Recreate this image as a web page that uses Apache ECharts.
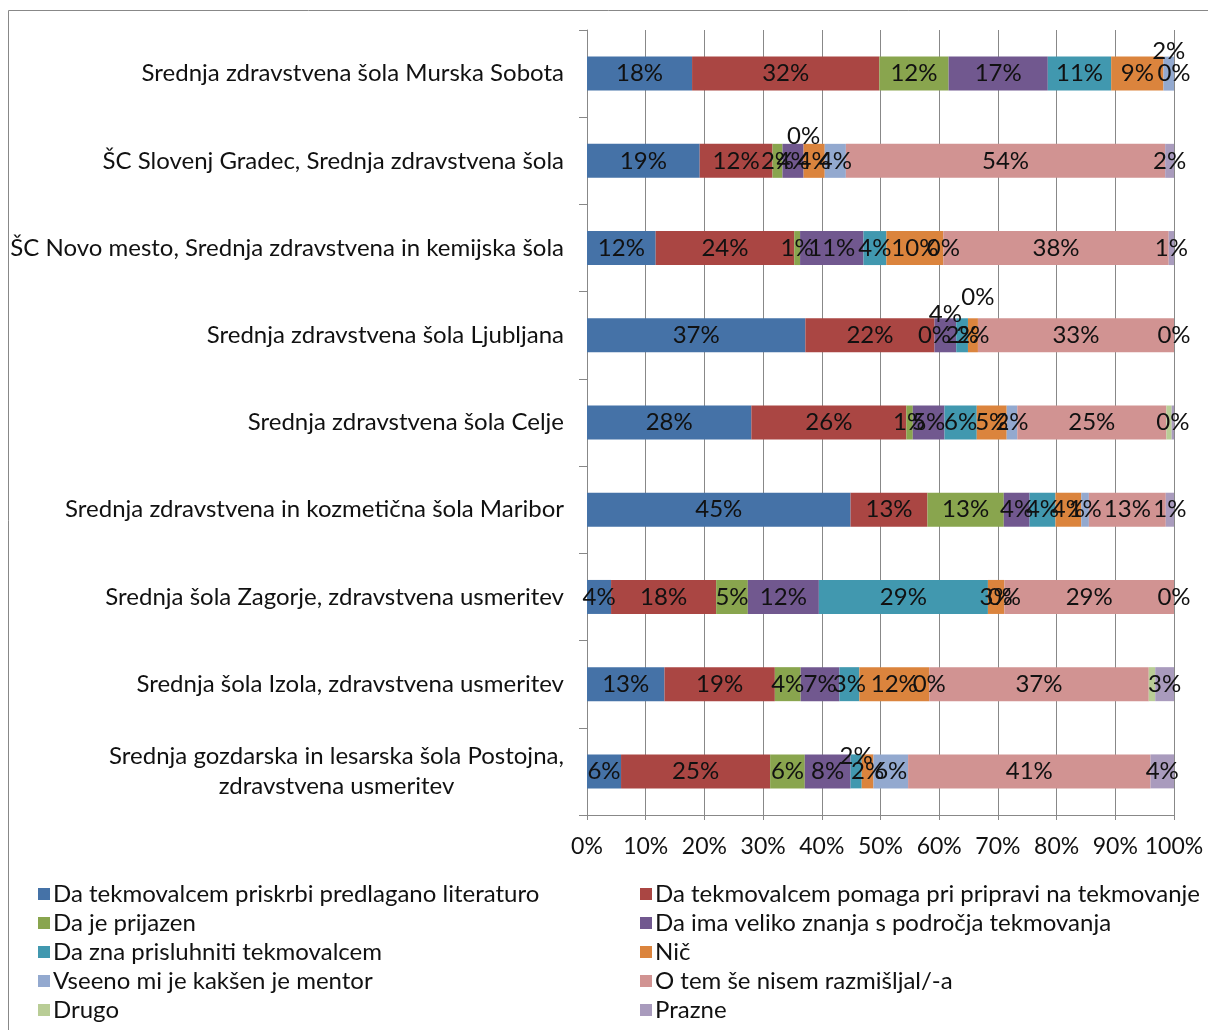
<!DOCTYPE html>
<html><head><meta charset="utf-8">
<script src="https://cdn.jsdelivr.net/npm/echarts@6/dist/echarts.min.js"></script>
<style>html,body{margin:0;padding:0;background:#fff}#c{width:1208px;height:1030px}</style>
</head><body><div id="c"></div>
<script>
const categories = [
  "Srednja zdravstvena šola Murska Sobota",
  "ŠC Slovenj Gradec, Srednja zdravstvena šola",
  "ŠC Novo mesto, Srednja zdravstvena in kemijska šola",
  "Srednja zdravstvena šola Ljubljana",
  "Srednja zdravstvena šola Celje",
  "Srednja zdravstvena in kozmetična šola Maribor",
  "Srednja šola Zagorje, zdravstvena usmeritev",
  "Srednja šola Izola, zdravstvena usmeritev",
  "Srednja gozdarska in lesarska šola Postojna,\nzdravstvena usmeritev"
];
const seriesNames = [
  "Da tekmovalcem priskrbi predlagano literaturo",
  "Da tekmovalcem pomaga pri pripravi na tekmovanje",
  "Da je prijazen",
  "Da ima veliko znanja s področja tekmovanja",
  "Da zna prisluhniti tekmovalcem",
  "Nič",
  "Vseeno mi je kakšen je mentor",
  "O tem še nisem razmišljal/-a",
  "Drugo",
  "Prazne"
];
// percentages per school (same order as categories)
const literatura   = [17.9, 19.2, 11.7, 37.2, 28.0, 44.9,  4.1, 13.2,  5.8];
const priprava     = [31.9, 12.4, 23.6, 22.0, 26.4, 13.1, 17.9, 18.8, 25.4];
const prijazen     = [11.8,  1.7,  1.0,  0,    1.1, 13.0,  5.4,  4.4,  5.9];
const znanje       = [16.9,  3.6, 10.8,  3.7,  5.4,  4.4, 12.1,  6.6,  7.8];
const prisluhniti  = [10.8,  0,    3.9,  2.0,  5.5,  4.4, 28.8,  3.4,  1.9];
const nic          = [ 8.9,  3.6,  9.7,  1.7,  5.1,  4.4,  2.8, 11.9,  2.0];
const vseeno       = [ 1.8,  3.6,  0,    0,    1.8,  1.3,  0,    0,    5.9];
const niRazmisljal = [ 0,   54.4, 38.4, 33.4, 25.4, 13.1, 28.9, 37.4, 41.3];
const drugo        = [null, null, null, null,  0.9, null, null,  1.1, null];
const prazne       = [null,  1.5,  0.9,  0,    0.4,  1.4,  0,    3.2,  4.0];
const xTicks = [0,10,20,30,40,50,60,70,80,90,100];

const allData = [literatura, priprava, prijazen, znanje, prisluhniti, nic, vseeno, niRazmisljal, drugo, prazne];
const colors = ['#4572A7','#AA4643','#89A54E','#71588F','#4198AF','#DB843D','#93A9CF','#D19392','#B9CD96','#A99BBD'];
// labels that the reference lifts above the bar: [series, category, dy]
const lifted = [[6,0,-22],[4,1,-25],[3,3,-21],[6,3,-38],[4,8,-15]];

const FONT = 'Lato';
const FS = 24;
const series = allData.map((arr, si) => ({
  name: seriesNames[si],
  type: 'bar',
  stack: 'all',
  barWidth: 34,
  itemStyle: {color: colors[si]},
  label: {
    show: si !== 8,
    position: 'inside',
    color: '#111',
    fontFamily: FONT,
    fontSize: FS,
    formatter: p => Math.round(p.value) + '%'
  },
  labelLayout: function (p) {
    const l = lifted.find(t => t[0] === p.seriesIndex && t[1] === p.dataIndex);
    return l ? {dy: l[2]} : {};
  },
  data: arr
}));

// width of the longest line of multi-line category labels (to centre lines as in reference)
const mctx = document.createElement('canvas').getContext('2d');
mctx.font = FS + 'px ' + FONT;
function blockWidth(v) { return Math.ceil(Math.max.apply(null, v.split('\n').map(s => mctx.measureText(s).width))); }

const chart = echarts.init(document.getElementById('c'));
const legendBase = {
  orient: 'vertical', icon: 'rect', itemWidth: 12, itemHeight: 12, itemGap: 5,
  textStyle: {fontFamily: FONT, fontSize: FS, color: '#111', lineHeight: 24, padding: [0,0,0,-2]},
  top: 877
};
chart.setOption({
  animation: false,
  color: colors,
  graphic: [{type: 'rect', shape: {x: 8.5, y: 10.5, width: 1300, height: 1100}, style: {fill: 'none', stroke: '#888', lineWidth: 1}}],
  grid: {left: 587, right: 34, top: 30, bottom: 215},
  legend: [
    Object.assign({}, legendBase, {left: 33, data: seriesNames.filter((_, i) => i % 2 === 0)}),
    Object.assign({}, legendBase, {left: 635, data: seriesNames.filter((_, i) => i % 2 === 1)})
  ],
  xAxis: {
    type: 'value', min: 0, max: 100, interval: 10,
    axisLine: {show: true, lineStyle: {color: '#888'}},
    axisTick: {show: true, length: 5, lineStyle: {color: '#888'}},
    splitLine: {show: true, lineStyle: {color: '#888'}},
    axisLabel: {margin: 20, fontFamily: FONT, fontSize: 23, color: '#111',
      formatter: v => xTicks.includes(v) ? v + '%' : ''}
  },
  yAxis: {
    type: 'category', inverse: true, data: categories,
    axisLine: {show: true, lineStyle: {color: '#888'}},
    axisTick: {show: true, length: 8, lineStyle: {color: '#888'}},
    axisLabel: {
      margin: 23, fontFamily: FONT, fontSize: FS, color: '#111', lineHeight: 30,
      formatter: v => v.includes('\n') ? v.split('\n').map(s => '{c' + blockWidth(v) + '|' + s + '}').join('\n') : v,
      rich: (function () {
        const r = {};
        categories.filter(v => v.includes('\n')).forEach(v => {
          r['c' + blockWidth(v)] = {width: blockWidth(v), align: 'center', fontFamily: FONT, fontSize: FS, color: '#111', lineHeight: 30};
        });
        return r;
      })()
    }
  },
  series: series
});
</script></body></html>
